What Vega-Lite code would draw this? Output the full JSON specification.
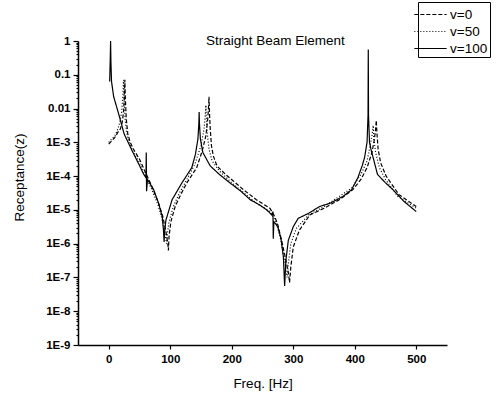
{
  "$schema": "https://vega.github.io/schema/vega-lite/v6.json",
  "width": 369,
  "height": 304,
  "autosize": {"type": "none"},
  "padding": {"left": 78, "top": 41, "right": 52, "bottom": 50},
  "background": "white",
  "config": {
    "view": {"stroke": null},
    "font": "Liberation Sans"
  },
  "datasets": {
    "curves": [
      {"f": 0, "r": 8.9e-4, "s": "v=0"},
      {"f": 5, "r": 1.12e-3, "s": "v=0"},
      {"f": 10, "r": 1.41e-3, "s": "v=0"},
      {"f": 15, "r": 2.0e-3, "s": "v=0"},
      {"f": 19, "r": 2.51e-3, "s": "v=0"},
      {"f": 22, "r": 3.98e-3, "s": "v=0"},
      {"f": 24, "r": 7.94e-3, "s": "v=0"},
      {"f": 25.5, "r": 2.51e-2, "s": "v=0"},
      {"f": 26.2, "r": 7.08e-2, "s": "v=0"},
      {"f": 27, "r": 2.0e-2, "s": "v=0"},
      {"f": 28.5, "r": 5.01e-3, "s": "v=0"},
      {"f": 31, "r": 1.78e-3, "s": "v=0"},
      {"f": 35, "r": 1.0e-3, "s": "v=0"},
      {"f": 40, "r": 6.31e-4, "s": "v=0"},
      {"f": 50, "r": 3.16e-4, "s": "v=0"},
      {"f": 60, "r": 1.26e-4, "s": "v=0"},
      {"f": 70, "r": 5.01e-5, "s": "v=0"},
      {"f": 80, "r": 1.78e-5, "s": "v=0"},
      {"f": 88, "r": 6.31e-6, "s": "v=0"},
      {"f": 93, "r": 2.24e-6, "s": "v=0"},
      {"f": 96, "r": 1.0e-6, "s": "v=0"},
      {"f": 97, "r": 6.31e-7, "s": "v=0"},
      {"f": 98, "r": 1.58e-6, "s": "v=0"},
      {"f": 101, "r": 4.47e-6, "s": "v=0"},
      {"f": 108, "r": 1.26e-5, "s": "v=0"},
      {"f": 117, "r": 2.82e-5, "s": "v=0"},
      {"f": 127, "r": 6.31e-5, "s": "v=0"},
      {"f": 143, "r": 1.78e-4, "s": "v=0"},
      {"f": 152, "r": 5.62e-4, "s": "v=0"},
      {"f": 158, "r": 1.58e-3, "s": "v=0"},
      {"f": 161, "r": 5.01e-3, "s": "v=0"},
      {"f": 162.5, "r": 1.26e-2, "s": "v=0"},
      {"f": 163, "r": 2.24e-2, "s": "v=0"},
      {"f": 163.5, "r": 1.0e-2, "s": "v=0"},
      {"f": 165, "r": 2.51e-3, "s": "v=0"},
      {"f": 167, "r": 7.94e-4, "s": "v=0"},
      {"f": 170, "r": 3.98e-4, "s": "v=0"},
      {"f": 176, "r": 2.0e-4, "s": "v=0"},
      {"f": 190, "r": 1.12e-4, "s": "v=0"},
      {"f": 203, "r": 7.08e-5, "s": "v=0"},
      {"f": 219, "r": 3.98e-5, "s": "v=0"},
      {"f": 240, "r": 2.0e-5, "s": "v=0"},
      {"f": 262, "r": 1.12e-5, "s": "v=0"},
      {"f": 270, "r": 6.31e-6, "s": "v=0"},
      {"f": 275, "r": 3.55e-6, "s": "v=0"},
      {"f": 281, "r": 1.26e-6, "s": "v=0"},
      {"f": 287, "r": 3.98e-7, "s": "v=0"},
      {"f": 292, "r": 1.41e-7, "s": "v=0"},
      {"f": 294, "r": 7.08e-8, "s": "v=0"},
      {"f": 296, "r": 2.0e-7, "s": "v=0"},
      {"f": 300, "r": 7.94e-7, "s": "v=0"},
      {"f": 310, "r": 2.51e-6, "s": "v=0"},
      {"f": 327, "r": 7.08e-6, "s": "v=0"},
      {"f": 350, "r": 1.12e-5, "s": "v=0"},
      {"f": 375, "r": 2.0e-5, "s": "v=0"},
      {"f": 397, "r": 3.98e-5, "s": "v=0"},
      {"f": 410, "r": 7.94e-5, "s": "v=0"},
      {"f": 420, "r": 1.78e-4, "s": "v=0"},
      {"f": 428, "r": 5.01e-4, "s": "v=0"},
      {"f": 432, "r": 1.26e-3, "s": "v=0"},
      {"f": 434, "r": 2.51e-3, "s": "v=0"},
      {"f": 435, "r": 4.47e-3, "s": "v=0"},
      {"f": 436, "r": 2.0e-3, "s": "v=0"},
      {"f": 438, "r": 6.31e-4, "s": "v=0"},
      {"f": 442, "r": 2.51e-4, "s": "v=0"},
      {"f": 451, "r": 1.0e-4, "s": "v=0"},
      {"f": 472, "r": 2.82e-5, "s": "v=0"},
      {"f": 500, "r": 1.26e-5, "s": "v=0"},

      {"f": 0, "r": 1.0e-3, "s": "v=50"},
      {"f": 5, "r": 1.26e-3, "s": "v=50"},
      {"f": 10, "r": 1.58e-3, "s": "v=50"},
      {"f": 15, "r": 2.51e-3, "s": "v=50"},
      {"f": 18, "r": 3.98e-3, "s": "v=50"},
      {"f": 21, "r": 7.94e-3, "s": "v=50"},
      {"f": 23, "r": 2.51e-2, "s": "v=50"},
      {"f": 24, "r": 7.08e-2, "s": "v=50"},
      {"f": 25, "r": 2.0e-2, "s": "v=50"},
      {"f": 26.5, "r": 5.01e-3, "s": "v=50"},
      {"f": 29, "r": 2.0e-3, "s": "v=50"},
      {"f": 33, "r": 1.0e-3, "s": "v=50"},
      {"f": 40, "r": 5.01e-4, "s": "v=50"},
      {"f": 50, "r": 2.51e-4, "s": "v=50"},
      {"f": 60, "r": 1.0e-4, "s": "v=50"},
      {"f": 70, "r": 3.98e-5, "s": "v=50"},
      {"f": 80, "r": 1.41e-5, "s": "v=50"},
      {"f": 87, "r": 5.01e-6, "s": "v=50"},
      {"f": 91, "r": 2.0e-6, "s": "v=50"},
      {"f": 94, "r": 1.0e-6, "s": "v=50"},
      {"f": 95.5, "r": 2.0e-6, "s": "v=50"},
      {"f": 98, "r": 4.47e-6, "s": "v=50"},
      {"f": 105, "r": 1.26e-5, "s": "v=50"},
      {"f": 115, "r": 3.16e-5, "s": "v=50"},
      {"f": 127, "r": 7.94e-5, "s": "v=50"},
      {"f": 140, "r": 2.24e-4, "s": "v=50"},
      {"f": 150, "r": 7.94e-4, "s": "v=50"},
      {"f": 155, "r": 2.51e-3, "s": "v=50"},
      {"f": 157, "r": 6.31e-3, "s": "v=50"},
      {"f": 158, "r": 1.26e-2, "s": "v=50"},
      {"f": 158.5, "r": 6.31e-3, "s": "v=50"},
      {"f": 160, "r": 2.0e-3, "s": "v=50"},
      {"f": 163, "r": 6.31e-4, "s": "v=50"},
      {"f": 168, "r": 2.82e-4, "s": "v=50"},
      {"f": 180, "r": 1.41e-4, "s": "v=50"},
      {"f": 200, "r": 6.31e-5, "s": "v=50"},
      {"f": 220, "r": 3.16e-5, "s": "v=50"},
      {"f": 240, "r": 1.58e-5, "s": "v=50"},
      {"f": 262, "r": 8.91e-6, "s": "v=50"},
      {"f": 272, "r": 4.47e-6, "s": "v=50"},
      {"f": 280, "r": 1.26e-6, "s": "v=50"},
      {"f": 286, "r": 3.16e-7, "s": "v=50"},
      {"f": 290, "r": 1.0e-7, "s": "v=50"},
      {"f": 292, "r": 2.51e-7, "s": "v=50"},
      {"f": 296, "r": 1.0e-6, "s": "v=50"},
      {"f": 305, "r": 2.82e-6, "s": "v=50"},
      {"f": 325, "r": 7.08e-6, "s": "v=50"},
      {"f": 350, "r": 1.26e-5, "s": "v=50"},
      {"f": 375, "r": 2.51e-5, "s": "v=50"},
      {"f": 395, "r": 4.47e-5, "s": "v=50"},
      {"f": 410, "r": 1.12e-4, "s": "v=50"},
      {"f": 420, "r": 2.82e-4, "s": "v=50"},
      {"f": 425, "r": 7.94e-4, "s": "v=50"},
      {"f": 428, "r": 1.58e-3, "s": "v=50"},
      {"f": 430, "r": 3.16e-3, "s": "v=50"},
      {"f": 431, "r": 1.26e-3, "s": "v=50"},
      {"f": 434, "r": 5.01e-4, "s": "v=50"},
      {"f": 440, "r": 1.78e-4, "s": "v=50"},
      {"f": 450, "r": 7.94e-5, "s": "v=50"},
      {"f": 470, "r": 2.51e-5, "s": "v=50"},
      {"f": 500, "r": 1.12e-5, "s": "v=50"},

      {"f": 1.5, "r": 6.31e-2, "s": "v=100"},
      {"f": 2.5, "r": 0.316, "s": "v=100"},
      {"f": 3, "r": 1.0, "s": "v=100"},
      {"f": 3.5, "r": 0.251, "s": "v=100"},
      {"f": 4.5, "r": 6.31e-2, "s": "v=100"},
      {"f": 8, "r": 2.24e-2, "s": "v=100"},
      {"f": 16, "r": 7.08e-3, "s": "v=100"},
      {"f": 25, "r": 1.78e-3, "s": "v=100"},
      {"f": 38, "r": 5.62e-4, "s": "v=100"},
      {"f": 49, "r": 2.24e-4, "s": "v=100"},
      {"f": 57, "r": 1.12e-4, "s": "v=100"},
      {"f": 60.5, "r": 8.91e-5, "s": "v=100"},
      {"f": 61, "r": 5.01e-4, "s": "v=100"},
      {"f": 61.5, "r": 3.55e-5, "s": "v=100"},
      {"f": 63, "r": 7.94e-5, "s": "v=100"},
      {"f": 73, "r": 3.98e-5, "s": "v=100"},
      {"f": 81, "r": 1.58e-5, "s": "v=100"},
      {"f": 87, "r": 6.31e-6, "s": "v=100"},
      {"f": 89, "r": 2.51e-6, "s": "v=100"},
      {"f": 90, "r": 1.12e-6, "s": "v=100"},
      {"f": 91, "r": 2.51e-6, "s": "v=100"},
      {"f": 93, "r": 5.01e-6, "s": "v=100"},
      {"f": 103, "r": 2.0e-5, "s": "v=100"},
      {"f": 119, "r": 6.31e-5, "s": "v=100"},
      {"f": 135, "r": 1.78e-4, "s": "v=100"},
      {"f": 141, "r": 4.47e-4, "s": "v=100"},
      {"f": 145, "r": 1.26e-3, "s": "v=100"},
      {"f": 146.5, "r": 3.55e-3, "s": "v=100"},
      {"f": 147, "r": 7.94e-3, "s": "v=100"},
      {"f": 147.5, "r": 3.55e-3, "s": "v=100"},
      {"f": 149, "r": 1.26e-3, "s": "v=100"},
      {"f": 153, "r": 5.01e-4, "s": "v=100"},
      {"f": 165, "r": 2.0e-4, "s": "v=100"},
      {"f": 180, "r": 1.12e-4, "s": "v=100"},
      {"f": 197, "r": 6.31e-5, "s": "v=100"},
      {"f": 215, "r": 3.55e-5, "s": "v=100"},
      {"f": 230, "r": 2.0e-5, "s": "v=100"},
      {"f": 245, "r": 1.41e-5, "s": "v=100"},
      {"f": 257, "r": 1.0e-5, "s": "v=100"},
      {"f": 265, "r": 7.08e-6, "s": "v=100"},
      {"f": 267, "r": 8.91e-6, "s": "v=100"},
      {"f": 267.5, "r": 1.41e-6, "s": "v=100"},
      {"f": 268.5, "r": 4.47e-6, "s": "v=100"},
      {"f": 275, "r": 3.16e-6, "s": "v=100"},
      {"f": 280, "r": 1.41e-6, "s": "v=100"},
      {"f": 284, "r": 3.98e-7, "s": "v=100"},
      {"f": 286, "r": 5.62e-8, "s": "v=100"},
      {"f": 288, "r": 3.16e-7, "s": "v=100"},
      {"f": 292, "r": 1.26e-6, "s": "v=100"},
      {"f": 300, "r": 3.16e-6, "s": "v=100"},
      {"f": 308, "r": 5.62e-6, "s": "v=100"},
      {"f": 325, "r": 7.94e-6, "s": "v=100"},
      {"f": 343, "r": 1.26e-5, "s": "v=100"},
      {"f": 360, "r": 1.58e-5, "s": "v=100"},
      {"f": 381, "r": 2.51e-5, "s": "v=100"},
      {"f": 395, "r": 3.98e-5, "s": "v=100"},
      {"f": 405, "r": 8.91e-5, "s": "v=100"},
      {"f": 412, "r": 2.0e-4, "s": "v=100"},
      {"f": 416, "r": 3.55e-4, "s": "v=100"},
      {"f": 420, "r": 1.0e-3, "s": "v=100"},
      {"f": 421.6, "r": 6.31e-3, "s": "v=100"},
      {"f": 422, "r": 0.562, "s": "v=100"},
      {"f": 422.4, "r": 6.31e-3, "s": "v=100"},
      {"f": 424, "r": 1.0e-3, "s": "v=100"},
      {"f": 427, "r": 5.62e-4, "s": "v=100"},
      {"f": 432, "r": 2.51e-4, "s": "v=100"},
      {"f": 437, "r": 1.12e-4, "s": "v=100"},
      {"f": 450, "r": 6.31e-5, "s": "v=100"},
      {"f": 462, "r": 3.98e-5, "s": "v=100"},
      {"f": 480, "r": 1.78e-5, "s": "v=100"},
      {"f": 500, "r": 8.91e-6, "s": "v=100"}
    ],
    "label": [{"f": 271, "r": 1, "t": "Straight Beam Element"}]
  },
  "layer": [
    {
      "data": {"name": "curves"},
      "mark": {"type": "line", "strokeWidth": 1.2, "color": "black", "interpolate": "linear"},
      "encoding": {
        "x": {
          "field": "f", "type": "quantitative",
          "scale": {"domain": [-50, 550], "nice": false, "zero": false},
          "axis": {
            "title": "Freq. [Hz]",
            "values": [0, 100, 200, 300, 400, 500],
            "orient": "bottom",
            "grid": false,
            "ticks": true,
            "labels": true,
            "domainColor": "black", "domainWidth": 1.5,
            "tickColor": "black", "tickWidth": 1.2,
            "tickSize": 4,
            "labelFont": "Liberation Sans", "labelFontSize": 11.5, "labelFontWeight": "bold", "labelColor": "black",
            "labelPadding": 4,
            "titleFont": "Liberation Sans", "titleFontSize": 13.5, "titleFontWeight": "normal", "titleColor": "black",
            "titlePadding": 12
          }
        },
        "y": {
          "field": "r", "type": "quantitative",
          "scale": {"type": "log", "domain": [1e-9, 1], "nice": false},
          "axis": {
            "title": "Receptance(z)",
            "values": [1e-9, 2e-9, 3e-9, 4e-9, 5e-9, 6e-9, 7e-9, 8e-9, 9e-9,
                       1e-8, 2e-8, 3e-8, 4e-8, 5e-8, 6e-8, 7e-8, 8e-8, 9e-8,
                       1e-7, 2e-7, 3e-7, 4e-7, 5e-7, 6e-7, 7e-7, 8e-7, 9e-7,
                       1e-6, 2e-6, 3e-6, 4e-6, 5e-6, 6e-6, 7e-6, 8e-6, 9e-6,
                       1e-5, 2e-5, 3e-5, 4e-5, 5e-5, 6e-5, 7e-5, 8e-5, 9e-5,
                       1e-4, 2e-4, 3e-4, 4e-4, 5e-4, 6e-4, 7e-4, 8e-4, 9e-4,
                       1e-3, 2e-3, 3e-3, 4e-3, 5e-3, 6e-3, 7e-3, 8e-3, 9e-3,
                       1e-2, 2e-2, 3e-2, 4e-2, 5e-2, 6e-2, 7e-2, 8e-2, 9e-2,
                       1e-1, 2e-1, 3e-1, 4e-1, 5e-1, 6e-1, 7e-1, 8e-1, 9e-1, 1],
            "labelExpr": "abs(log(datum.value)/LN10 - round(log(datum.value)/LN10)) < 0.001 ? (datum.value >= 0.01 ? format(datum.value, '') : '1E' + round(log(datum.value)/LN10)) : ''",
            "labelOverlap": false,
            "grid": false,
            "domainColor": "black", "domainWidth": 1.5,
            "tickColor": "black", "tickWidth": 1.2,
            "tickSize": {"condition": {"test": "abs(log(datum.value)/LN10 - round(log(datum.value)/LN10)) < 0.001", "value": 5}, "value": 2},
            "labelFont": "Liberation Sans", "labelFontSize": 11.5, "labelFontWeight": "bold", "labelColor": "black",
            "labelPadding": 3,
            "titleFont": "Liberation Sans", "titleFontSize": 13.5, "titleFontWeight": "normal", "titleColor": "black",
            "titleAngle": 270, "titleX": -59, "titleY": 136, "titleBaseline": "middle", "titleAlign": "center"
          }
        },
        "strokeDash": {
          "field": "s", "type": "nominal",
          "scale": {"domain": ["v=0", "v=50", "v=100"], "range": [[4, 2], [1, 2], [1, 0]]},
          "legend": {
            "title": null,
            "orient": "none",
            "legendX": 340,
            "legendY": -39,
            "symbolType": "M-1.7,0H1.7",
            "symbolSize": 361,
            "symbolStrokeColor": "black",
            "symbolStrokeWidth": 1.2,
            "labelFont": "Liberation Sans",
            "labelFontSize": 13.5,
            "labelColor": "black",
            "labelOffset": 9,
            "rowPadding": 0,
            "strokeColor": "black",
            "fillColor": "white",
            "padding": 2
          }
        }
      }
    },
    {
      "data": {"name": "label"},
      "mark": {"type": "text", "font": "Liberation Sans", "fontSize": 13.5, "color": "black", "baseline": "middle", "align": "center"},
      "encoding": {
        "x": {"field": "f", "type": "quantitative"},
        "y": {"field": "r", "type": "quantitative"},
        "text": {"field": "t"}
      }
    }
  ]
}
